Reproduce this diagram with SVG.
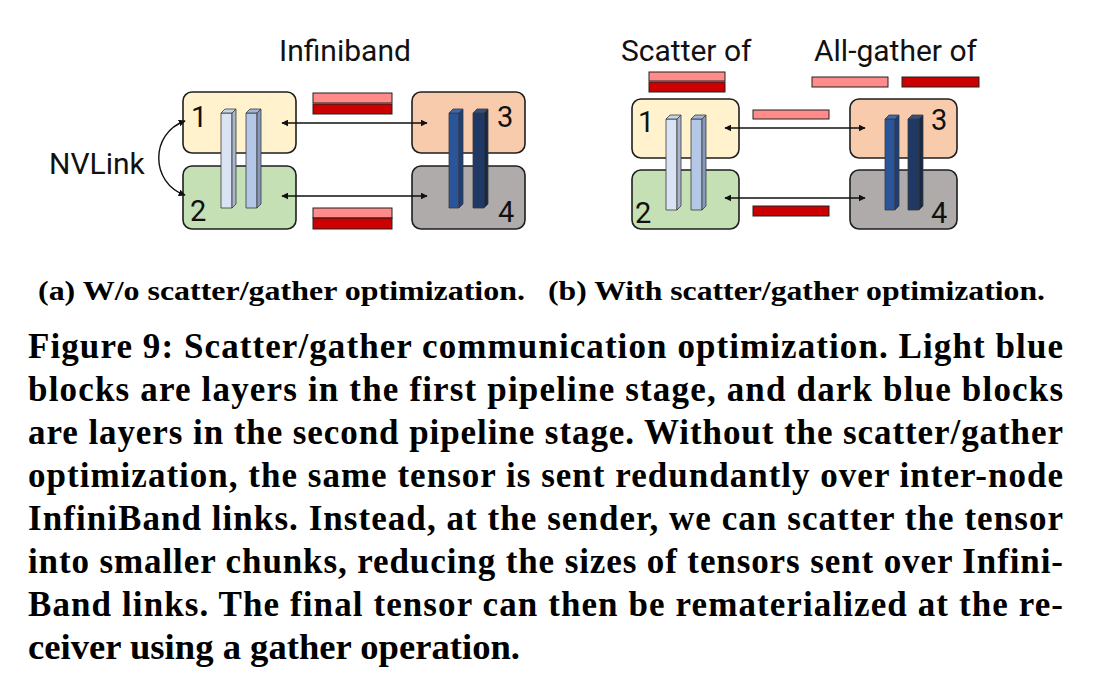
<svg xmlns="http://www.w3.org/2000/svg" width="1119" height="685" viewBox="0 0 1119 685">
<style>
.box{stroke:#1e1e1e;stroke-width:1.6}
.b1{fill:#FFF2CC}.b2{fill:#C5E0B4}.b3{fill:#F8CBAD}.b4{fill:#AFABAB}
.bar{stroke:#3a3a3a;stroke-width:0.8;stroke-linejoin:round}
.pk{fill:#FF8B8B;stroke:#222;stroke-width:1}
.dr{fill:#CC0000;stroke:#222;stroke-width:1}
.lbl{font-family:Roboto,"Liberation Sans",sans-serif;font-size:30px;fill:#111}
.num{font-family:Roboto,"Liberation Sans",sans-serif;font-size:29px;fill:#111}
.conn{stroke:#111;stroke-width:1.4;fill:none}
.sub{font-family:"Liberation Serif",serif;font-weight:bold;font-size:28px;fill:#000}
.cap{font-family:"Liberation Serif",serif;font-weight:bold;font-size:35px;fill:#000}
</style>
<defs>
<marker id="ah" viewBox="0 0 10 10" refX="9" refY="5" markerWidth="7" markerHeight="7" orient="auto-start-reverse" markerUnits="userSpaceOnUse">
<path d="M0,0 L10,5 L0,10 z" fill="#111"/>
</marker>
</defs>

<!-- Left diagram (a) -->
<g id="a-box1"><rect class="box b1" x="183" y="92" width="113" height="61" rx="9"/><text class="num" x="191" y="127">1</text></g>
<g id="a-box2"><rect class="box b2" x="183" y="166" width="113" height="63" rx="9"/><text class="num" x="190" y="221">2</text></g>
<g id="a-box3"><rect class="box b3" x="412" y="92" width="113" height="61" rx="9"/><text class="num" x="497" y="127">3</text></g>
<g id="a-box4"><rect class="box b4" x="412" y="166" width="113" height="63" rx="9"/><text class="num" x="498" y="222">4</text></g>

<g id="a-bars">
<rect class="bar" x="221" y="113" width="11" height="95" fill="#DAE3F3"/>
<polygon class="bar" points="221,113 225,109 236,109 232,113" fill="#C8D4EA"/>
<polygon class="bar" points="232,113 236,109 236,204 232,208" fill="#A9B5CA"/>
<rect class="bar" x="246" y="113" width="11" height="95" fill="#B4C7E7"/>
<polygon class="bar" points="246,113 250,109 261,109 257,113" fill="#A2B6D9"/>
<polygon class="bar" points="257,113 261,109 261,204 257,208" fill="#8699BB"/>
<rect class="bar" x="449" y="113" width="10" height="95" fill="#2A559A"/>
<polygon class="bar" points="449,113 453,109 463,109 459,113" fill="#3D68AE"/>
<polygon class="bar" points="459,113 463,109 463,204 459,208" fill="#1D3F78"/>
<rect class="bar" x="473" y="113" width="11" height="95" fill="#1F3864"/>
<polygon class="bar" points="473,113 477,109 488,109 484,113" fill="#34507E"/>
<polygon class="bar" points="484,113 488,109 488,204 484,208" fill="#142848"/>
</g>

<g id="a-tensors">
<rect class="pk" x="313" y="93" width="79" height="10"/>
<rect class="dr" x="313" y="104" width="79" height="10"/>
<rect class="pk" x="313" y="208" width="79" height="10"/>
<rect class="dr" x="313" y="218" width="79" height="11"/>
</g>

<g id="a-labels">
<text class="lbl" x="279" y="61">Infiniband</text>
<text class="lbl" x="49" y="174">NVLink</text>
</g>

<!-- Right diagram (b) -->
<g id="b-box1"><rect class="box b1" x="632" y="99" width="107" height="59" rx="9"/><text class="num" x="638" y="132">1</text></g>
<g id="b-box2"><rect class="box b2" x="632" y="170" width="107" height="59" rx="9"/><text class="num" x="635" y="223">2</text></g>
<g id="b-box3"><rect class="box b3" x="850" y="99" width="107" height="59" rx="9"/><text class="num" x="931" y="130">3</text></g>
<g id="b-box4"><rect class="box b4" x="850" y="170" width="107" height="59" rx="9"/><text class="num" x="931" y="223">4</text></g>

<g id="b-bars">
<rect class="bar" x="666" y="119" width="11" height="91" fill="#DAE3F3"/>
<polygon class="bar" points="666,119 670,115 681,115 677,119" fill="#C8D4EA"/>
<polygon class="bar" points="677,119 681,115 681,206 677,210" fill="#A9B5CA"/>
<rect class="bar" x="691" y="119" width="11" height="91" fill="#B4C7E7"/>
<polygon class="bar" points="691,119 695,115 706,115 702,119" fill="#A2B6D9"/>
<polygon class="bar" points="702,119 706,115 706,206 702,210" fill="#8699BB"/>
<rect class="bar" x="885" y="119" width="10" height="91" fill="#2A559A"/>
<polygon class="bar" points="885,119 889,115 899,115 895,119" fill="#3D68AE"/>
<polygon class="bar" points="895,119 899,115 899,206 895,210" fill="#1D3F78"/>
<rect class="bar" x="908" y="119" width="11" height="91" fill="#1F3864"/>
<polygon class="bar" points="908,119 912,115 923,115 919,119" fill="#34507E"/>
<polygon class="bar" points="919,119 923,115 923,206 919,210" fill="#142848"/>
</g>

<g id="b-tensors">
<rect class="pk" x="649" y="72" width="76" height="9"/>
<rect class="dr" x="649" y="82" width="76" height="10"/>
<rect class="pk" x="812" y="77" width="76" height="10"/>
<rect class="dr" x="902" y="77" width="77" height="10"/>
<rect class="pk" x="753" y="110" width="76" height="9"/>
<rect class="dr" x="753" y="206" width="76" height="10"/>
</g>

<g id="b-labels">
<text class="lbl" x="621" y="61">Scatter of</text>
<text class="lbl" x="814" y="61">All-gather of</text>
</g>

<g id="connectors">
<path class="conn" d="M185,121 C150,133 150,183 185,195" marker-start="url(#ah)" marker-end="url(#ah)"/>
<line class="conn" x1="282" y1="123" x2="427" y2="123" marker-start="url(#ah)" marker-end="url(#ah)"/>
<line class="conn" x1="282" y1="196" x2="427" y2="196" marker-start="url(#ah)" marker-end="url(#ah)"/>
<line class="conn" x1="725" y1="128" x2="865" y2="128" marker-start="url(#ah)" marker-end="url(#ah)"/>
<line class="conn" x1="725" y1="198" x2="865" y2="198" marker-start="url(#ah)" marker-end="url(#ah)"/>
</g>

<g id="subcaptions">
<text class="sub" x="38" y="300" textLength="487" lengthAdjust="spacingAndGlyphs">(a) W/o scatter/gather optimization.</text>
<text class="sub" x="548" y="300" textLength="497" lengthAdjust="spacingAndGlyphs">(b) With scatter/gather optimization.</text>
</g>

<g id="caption">
<text class="cap" x="28" y="358" textLength="1035" lengthAdjust="spacing">Figure 9: Scatter/gather communication optimization. Light blue</text>
<text class="cap" x="28" y="401" textLength="1035" lengthAdjust="spacing">blocks are layers in the first pipeline stage, and dark blue blocks</text>
<text class="cap" x="28" y="444" textLength="1035" lengthAdjust="spacing">are layers in the second pipeline stage. Without the scatter/gather</text>
<text class="cap" x="28" y="487" textLength="1035" lengthAdjust="spacing">optimization, the same tensor is sent redundantly over inter-node</text>
<text class="cap" x="28" y="530" textLength="1035" lengthAdjust="spacing">InfiniBand links. Instead, at the sender, we can scatter the tensor</text>
<text class="cap" x="28" y="573" textLength="1035" lengthAdjust="spacing">into smaller chunks, reducing the sizes of tensors sent over Infini-</text>
<text class="cap" x="28" y="616" textLength="1035" lengthAdjust="spacing">Band links. The final tensor can then be rematerialized at the re-</text>
<text class="cap" x="28" y="659" textLength="492" lengthAdjust="spacingAndGlyphs">ceiver using a gather operation.</text>
</g>
</svg>
